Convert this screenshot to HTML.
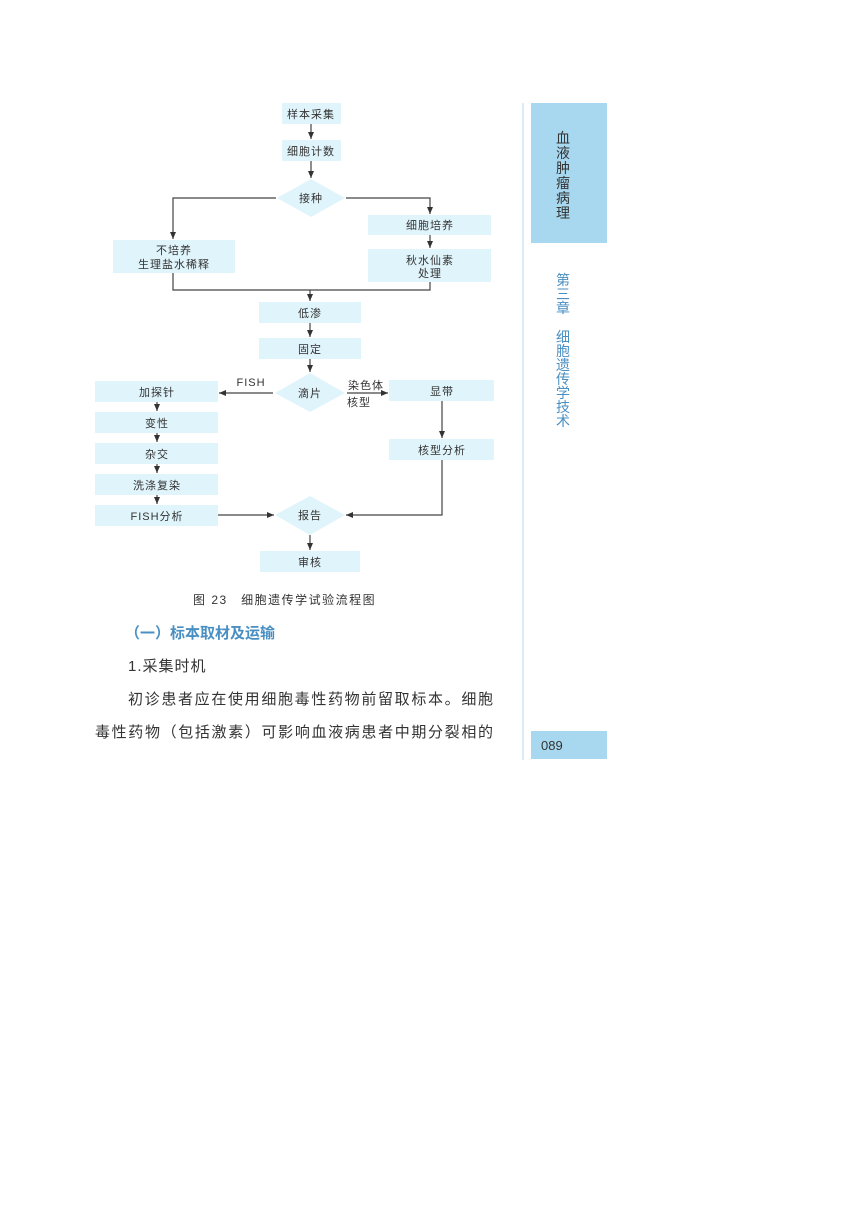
<!DOCTYPE html>
<html><head><meta charset="utf-8"><style>
body{margin:0;background:#fff;}
svg text{font-family:"Liberation Sans","Noto Sans CJK SC",sans-serif;fill:#333;}
</style></head><body>
<svg width="867" height="1218" xmlns="http://www.w3.org/2000/svg">
<defs><marker id="a" markerWidth="8" markerHeight="8" refX="7" refY="4" orient="auto" markerUnits="userSpaceOnUse"><path d="M0,1 L7,4 L0,7 z" fill="#333"/></marker></defs>
<g fill="#e0f4fb">
<rect x="282" y="103" width="59" height="21"/>
<rect x="282" y="140" width="59" height="21"/>
<polygon points="277,198 311,179 345,198 311,217"/>
<rect x="368" y="215" width="123" height="20"/>
<rect x="368" y="249" width="123" height="33"/>
<rect x="113" y="240" width="122" height="33"/>
<rect x="259" y="302" width="102" height="21"/>
<rect x="259" y="338" width="102" height="21"/>
<polygon points="275,393 310,373 345,393 310,412"/>
<rect x="95" y="381" width="123" height="21"/>
<rect x="95" y="412" width="123" height="21"/>
<rect x="95" y="443" width="123" height="21"/>
<rect x="95" y="474" width="123" height="21"/>
<rect x="95" y="505" width="123" height="21"/>
<rect x="389" y="380" width="105" height="21"/>
<rect x="389" y="439" width="105" height="21"/>
<polygon points="275,515 310,496 345,515 310,535"/>
<rect x="260" y="551" width="100" height="21"/>
</g>
<g stroke="#444" stroke-width="1.2" fill="none">
<line x1="311" y1="124" x2="311" y2="139" marker-end="url(#a)"/>
<line x1="311" y1="161" x2="311" y2="178" marker-end="url(#a)"/>
<polyline points="276,198 173,198 173,239" marker-end="url(#a)"/>
<polyline points="346,198 430,198 430,214" marker-end="url(#a)"/>
<line x1="430" y1="235" x2="430" y2="248" marker-end="url(#a)"/>
<polyline points="173,273 173,290 430,290 430,282"/>
<line x1="310" y1="290" x2="310" y2="301" marker-end="url(#a)"/>
<line x1="310" y1="323" x2="310" y2="337" marker-end="url(#a)"/>
<line x1="310" y1="359" x2="310" y2="372" marker-end="url(#a)"/>
<line x1="273" y1="393" x2="219" y2="393" marker-end="url(#a)"/>
<line x1="347" y1="393" x2="388" y2="393" marker-end="url(#a)"/>
<line x1="157" y1="402" x2="157" y2="411" marker-end="url(#a)"/>
<line x1="157" y1="433" x2="157" y2="442" marker-end="url(#a)"/>
<line x1="157" y1="464" x2="157" y2="473" marker-end="url(#a)"/>
<line x1="157" y1="495" x2="157" y2="504" marker-end="url(#a)"/>
<line x1="218" y1="515" x2="274" y2="515" marker-end="url(#a)"/>
<line x1="442" y1="401" x2="442" y2="438" marker-end="url(#a)"/>
<polyline points="442,460 442,515 346,515" marker-end="url(#a)"/>
<line x1="310" y1="535" x2="310" y2="550" marker-end="url(#a)"/>
</g>
<g font-size="11" text-anchor="middle" letter-spacing="1">
<text x="311" y="118">样本采集</text>
<text x="311" y="155">细胞计数</text>
<text x="311" y="202">接种</text>
<text x="430" y="229">细胞培养</text>
<text x="430" y="264">秋水仙素</text>
<text x="430" y="277">处理</text>
<text x="174" y="254">不培养</text>
<text x="174" y="268">生理盐水稀释</text>
<text x="310" y="317">低渗</text>
<text x="310" y="353">固定</text>
<text x="310" y="397">滴片</text>
<text x="157" y="396">加探针</text>
<text x="157" y="427">变性</text>
<text x="157" y="458">杂交</text>
<text x="157" y="489">洗涤复染</text>
<text x="157" y="520">FISH分析</text>
<text x="442" y="395">显带</text>
<text x="442" y="454">核型分析</text>
<text x="310" y="519">报告</text>
<text x="310" y="566">审核</text>
<text x="251" y="386" font-family="Liberation Serif">FISH</text>
<text x="366" y="389">染色体</text>
<text x="359" y="406">核型</text>
</g>
<text x="193" y="604" font-size="12" letter-spacing="1.5" font-family="Liberation Serif,Noto Serif CJK SC,serif">图 23　细胞遗传学试验流程图</text>
<text x="125" y="638" font-size="15" font-weight="bold" style="fill:#4a8fc2">（一）标本取材及运输</text>
<text x="128" y="671" font-size="15" letter-spacing="1">1.采集时机</text>
<text x="128" y="704" font-size="15" textLength="365" lengthAdjust="spacing">初诊患者应在使用细胞毒性药物前留取标本。细胞</text>
<text x="95" y="737" font-size="15" textLength="398" lengthAdjust="spacing">毒性药物（包括激素）可影响血液病患者中期分裂相的</text>
<line x1="523" y1="103" x2="523" y2="760" stroke="#cfe6f3" stroke-width="1.5"/>
<rect x="531" y="103" width="76" height="140" fill="#a8d8f0"/>
<g font-size="14" text-anchor="middle">
<text x="563" y="143">血</text><text x="563" y="158">液</text><text x="563" y="173">肿</text>
<text x="563" y="188">瘤</text><text x="563" y="203">病</text><text x="563" y="218">理</text>
</g>
<g font-size="14" text-anchor="middle">
<text x="563" y="285" style="fill:#4a8fc2">第</text><text x="563" y="299" style="fill:#4a8fc2">三</text><text x="563" y="313" style="fill:#4a8fc2">章</text>
<text x="563" y="342" style="fill:#4a8fc2">细</text><text x="563" y="356" style="fill:#4a8fc2">胞</text><text x="563" y="370" style="fill:#4a8fc2">遗</text>
<text x="563" y="384" style="fill:#4a8fc2">传</text><text x="563" y="398" style="fill:#4a8fc2">学</text><text x="563" y="412" style="fill:#4a8fc2">技</text>
<text x="563" y="426" style="fill:#4a8fc2">术</text>
</g>
<rect x="531" y="731" width="76" height="28" fill="#a8d8f0"/>
<text x="541" y="750" font-size="13">089</text>
</svg>
</body></html>
